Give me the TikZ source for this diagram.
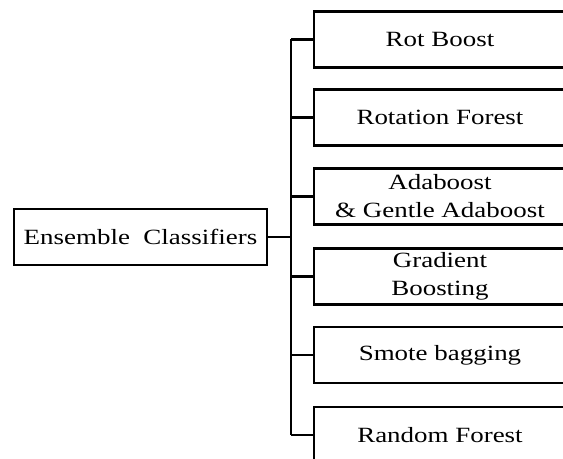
\documentclass[tikz,border=0pt]{standalone}
\usepackage{fontspec}
\setmainfont{Liberation Serif}
\newfontfamily\boxfont[FakeStretch=1.24]{Liberation Serif}
\begin{document}
\begin{tikzpicture}[x=0.75pt,y=-0.75pt,
  box/.style={draw=black, line width=1.6pt, rectangle, minimum width=189pt, minimum height=42pt,
    align=center, inner sep=0pt, font=\boxfont\fontsize{16.3}{21}\selectfont},
  rootbox/.style={box, minimum width=189.75pt},
  link/.style={draw=black, line width=1.6pt}]
\useasboundingbox[clip] (0,0) rectangle (563,459);
\fill[white] (0,0) rectangle (563,459);
\node[rootbox] (root) at (140.5,237) {Ensemble\ \ Classifiers};
\node[box] (b1) at (440,39.5) {Rot Boost};
\node[box] (b2) at (440,117.5) {Rotation Forest};
\node[box] (b3) at (440,196.5) {Adaboost\\\& Gentle\ Adaboost};
\node[box] (b4) at (440,276.5) {Gradient\\Boosting};
\node[box] (b5) at (440,355) {Smote bagging};
\node[box] (b6) at (440,435) {Random Forest};
\coordinate (j) at (291,237);
\draw[link] (root.east) -- (j);
\draw[link] (j |- b1.west) -- (j |- b6.west);
\foreach \b in {b1,b2,b3,b4,b5,b6}
  \draw[link] (j |- \b.west) -- (\b.west);
\end{tikzpicture}
\end{document}
